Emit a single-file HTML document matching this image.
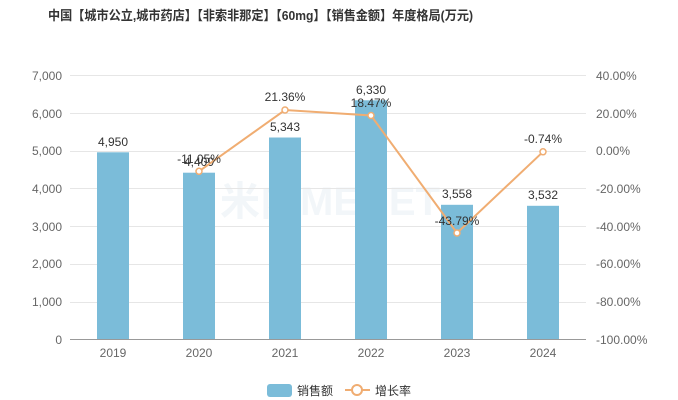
<!DOCTYPE html>
<html><head><meta charset="utf-8"><style>body{margin:0;background:#fff}svg{display:block}</style></head>
<body>
<svg width="678" height="400" xmlns="http://www.w3.org/2000/svg" font-family="'Liberation Sans','Noto Sans CJK SC',sans-serif">
<text x="48" y="20" font-size="13" font-weight="bold" fill="#333" textLength="425" lengthAdjust="spacingAndGlyphs">中国【城市公立,城市药店】【非索非那定】【60mg】【销售金额】年度格局(万元)</text>
<text x="330" y="215" text-anchor="middle" font-size="40" font-weight="bold" fill="#f2f6f9">米内MENET</text>
<g stroke="#e6e6e6" stroke-width="1">
<line x1="70" x2="586" y1="75.5" y2="75.5"/><line x1="70" x2="586" y1="113.5" y2="113.5"/><line x1="70" x2="586" y1="151.5" y2="151.5"/><line x1="70" x2="586" y1="188.5" y2="188.5"/><line x1="70" x2="586" y1="226.5" y2="226.5"/><line x1="70" x2="586" y1="264.5" y2="264.5"/><line x1="70" x2="586" y1="302.5" y2="302.5"/>
</g>
<line x1="70" x2="586" y1="339.5" y2="339.5" stroke="#999"/>
<g font-size="12" fill="#666" text-anchor="end">
<text x="62" y="80">7,000</text><text x="62" y="118">6,000</text><text x="62" y="155">5,000</text><text x="62" y="193">4,000</text><text x="62" y="231">3,000</text><text x="62" y="268">2,000</text><text x="62" y="306">1,000</text><text x="62" y="344">0</text>
</g>
<g font-size="12" fill="#666" text-anchor="start">
<text x="596" y="80">40.00%</text><text x="596" y="118">20.00%</text><text x="596" y="155">0.00%</text><text x="596" y="193">-20.00%</text><text x="596" y="231">-40.00%</text><text x="596" y="268">-60.00%</text><text x="596" y="306">-80.00%</text><text x="596" y="344">-100.00%</text>
</g>
<g font-size="12" fill="#666" text-anchor="middle">
<text x="113" y="357">2019</text><text x="199" y="357">2020</text><text x="285" y="357">2021</text><text x="371" y="357">2022</text><text x="457" y="357">2023</text><text x="543" y="357">2024</text>
</g>
<g fill="#7bbcd9">
<rect x="97" y="152.3" width="32" height="186.7"/><rect x="183" y="172.7" width="32" height="166.3"/><rect x="269" y="137.5" width="32" height="201.5"/><rect x="355" y="100.3" width="32" height="238.7"/><rect x="441" y="204.8" width="32" height="134.2"/><rect x="527" y="205.8" width="32" height="133.2"/>
</g>
<g font-size="12" fill="#333" text-anchor="middle">
<text x="113" y="146">4,950</text><text x="199" y="166">4,409</text><text x="285" y="131">5,343</text><text x="371" y="94">6,330</text><text x="457" y="198">3,558</text><text x="543" y="199">3,532</text>
</g>
<polyline points="199,171.3 285,110 371,115.5 457,233 543,151.8" fill="none" stroke="#f0ad72" stroke-width="2"/>
<g fill="#fff" stroke="#f0ad72" stroke-width="1.5">
<circle cx="199" cy="171.3" r="3"/><circle cx="285" cy="110" r="3"/><circle cx="371" cy="115.5" r="3"/><circle cx="457" cy="233" r="3"/><circle cx="543" cy="151.8" r="3"/>
</g>
<g font-size="12" fill="#333" text-anchor="middle">
<text x="199" y="163">-11.05%</text><text x="285" y="101">21.36%</text><text x="371" y="107">18.47%</text><text x="457" y="225">-43.79%</text><text x="543" y="143">-0.74%</text>
</g>
<rect x="267" y="384" width="25" height="13" rx="3" fill="#7bbcd9"/>
<text x="297" y="395" font-size="12" fill="#333">销售额</text>
<line x1="345" x2="370" y1="390" y2="390" stroke="#f0ad72" stroke-width="2"/>
<circle cx="357" cy="390" r="5" fill="#fff" stroke="#f0ad72" stroke-width="2"/>
<text x="375" y="395" font-size="12" fill="#333">增长率</text>
</svg>
</body></html>
